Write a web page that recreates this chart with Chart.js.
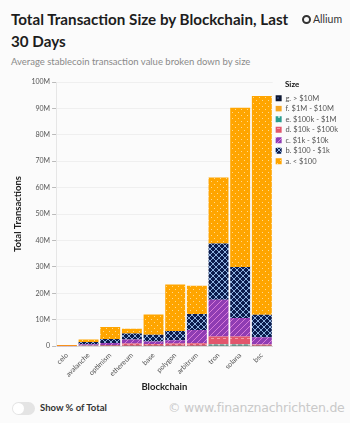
<!DOCTYPE html>
<html>
<head>
<meta charset="utf-8">
<script src="https://cdn.jsdelivr.net/npm/chart.js@4.4.1/dist/chart.umd.min.js"></script>
<style>
  html, body { margin: 0; padding: 0; background: #fbfbfb; }
  body { width: 350px; height: 423px; position: relative; overflow: hidden; font-family: "Lato", sans-serif; }
  #titulo { position: absolute; left: 11px; top: 8px; width: 292px; font-size: 15.2px; font-weight: 700; line-height: 22px; color: #1d1d1d; }
  #sub { position: absolute; left: 11px; top: 56px; font-size: 9.5px; color: #8a8a8a; }
  #logo { position: absolute; left: 302px; top: 13px; font-size: 10.5px; color: #333; display: flex; align-items: center; gap: 2px; }
  #logo .ic { width: 9px; height: 9px; border: 2px solid #333; border-radius: 50%; box-sizing: border-box; }
  #grafico { position: absolute; left: 0; top: 72px; }
  #size { position: absolute; left: 285px; top: 79px; font-size: 8px; font-weight: 700; color: #111; }
  #toggle { position: absolute; left: 12px; top: 402px; width: 23px; height: 13px; border-radius: 7px; background: #e4e4e4; }
  #toggle span { position: absolute; left: 1px; top: 1px; width: 11px; height: 11px; border-radius: 50%; background: #fff; }
  #toggleTxt { position: absolute; left: 40px; top: 402px; font-size: 9.5px; font-weight: 700; color: #333; }
  #marca { position: absolute; left: 168px; top: 400px; font-size: 12.5px; color: #c9c9c9; font-family: "DejaVu Sans", sans-serif; letter-spacing: -0.2px; }
</style>
</head>
<body>
<div id="titulo">Total Transaction Size by Blockchain, Last 30 Days</div>
<div id="logo"><div class="ic"></div>Allium</div>
<div id="sub">Average stablecoin transaction value broken down by size</div>
<canvas id="grafico" width="350" height="328"></canvas>
<div id="size">Size</div>
<div id="toggle"><span></span></div>
<div id="toggleTxt">Show % of Total</div>
<div id="marca">© www.finanznachrichten.de</div>
<script>
// Datos (millones)
const blockchains = ['celo', 'avalanche', 'optimism', 'ethereum', 'base', 'polygon', 'arbitrum', 'tron', 'solana', 'bsc'];
const tamanoA = [0.4, 1.0, 4.6, 1.8, 7.7, 17.6, 10.7, 25.0, 60.3, 82.8];   // a. < $100
const tamanoB = [0.05, 0.8, 1.5, 2.3, 2.5, 3.5, 6.1, 21.3, 19.3, 8.5];    // b. $100 - $1k
const tamanoC = [0.02, 0.5, 0.8, 1.5, 1.0, 1.2, 5.0, 13.9, 7.0, 2.8];     // c. $1k - $10k
const tamanoD = [0.01, 0.2, 0.3, 0.9, 0.7, 0.9, 1.0, 3.0, 3.0, 0.5];      // d. $10k - $100k
const tamanoE = [0, 0.05, 0.1, 0.1, 0.1, 0.1, 0.1, 0.5, 0.5, 0.1];        // e. $100k - $1M
const tamanoF = [0, 0, 0, 0, 0, 0, 0, 0.1, 0.1, 0];                       // f. $1M - $10M
const tamanoG = [0, 0, 0, 0, 0, 0, 0, 0.05, 0.05, 0];                     // g. > $10M
const ticksY = ['0', '10M', '20M', '30M', '40M', '50M', '60M', '70M', '80M', '90M', '100M'];

// Patrones de relleno
function patron(fondo, dibujar) {
    const c = document.createElement('canvas');
    c.width = 6; c.height = 6;
    const g = c.getContext('2d');
    g.fillStyle = fondo;
    g.fillRect(0, 0, 6, 6);
    dibujar(g);
    return g.createPattern(c, 'repeat');
}

const patA = patron('#ffa500', g => {
    g.fillStyle = '#ffd98c';
    g.fillRect(1, 1, 1, 1);
    g.fillRect(4, 4, 1, 1);
});
const patB = patron('#0b1c4d', g => {
    g.strokeStyle = '#9cc2ee';
    g.lineWidth = 0.9;
    g.beginPath();
    g.moveTo(0, 3); g.lineTo(3, 0); g.lineTo(6, 3); g.lineTo(3, 6); g.closePath();
    g.stroke();
});
const patC = patron('#8f3cb3', g => {
    g.strokeStyle = '#d77ad8';
    g.lineWidth = 1;
    g.beginPath();
    g.moveTo(0, 6); g.lineTo(6, 0);
    g.moveTo(-1, 1); g.lineTo(1, -1);
    g.moveTo(5, 7); g.lineTo(7, 5);
    g.stroke();
});
const patD = patron('#e2566c', g => {
    g.fillStyle = '#f29aa6';
    g.fillRect(1, 2, 3, 1);
});
const patE = patron('#2a9d8f', g => {
    g.fillStyle = '#9ad8cf';
    g.fillRect(2, 2, 2, 2);
});
const patF = patron('#f5a623', g => {
    g.fillStyle = '#fbd28c';
    g.fillRect(0, 3, 6, 1);
});
const patG = patron('#0d1733', g => {
    g.fillStyle = '#2a3b66';
    g.fillRect(1, 1, 2, 2);
});

const series = [
    { label: 'g. > $10M', data: tamanoG, backgroundColor: patG },
    { label: 'f. $1M - $10M', data: tamanoF, backgroundColor: patF },
    { label: 'e. $100k - $1M', data: tamanoE, backgroundColor: patE },
    { label: 'd. $10k - $100k', data: tamanoD, backgroundColor: patD },
    { label: 'c. $1k - $10k', data: tamanoC, backgroundColor: patC },
    { label: 'b. $100 - $1k', data: tamanoB, backgroundColor: patB },
    { label: 'a. < $100', data: tamanoA, backgroundColor: patA }
];

const ctx = document.getElementById('grafico').getContext('2d');

window.chartTamano = new Chart(ctx, {
    type: 'bar',
    data: {
        labels: blockchains,
        datasets: series.map(s => ({
            label: s.label,
            data: s.data,
            backgroundColor: s.backgroundColor,
            borderWidth: 0,
            categoryPercentage: 0.92,
            barPercentage: 1.0
        }))
    },
    options: {
        responsive: false,
        animation: false,
        layout: { padding: { top: 10, right: 2, left: 8, bottom: 3 } },
        scales: {
            x: {
                stacked: true,
                grid: { display: false, drawTicks: true, tickLength: 4 },
                border: { color: '#d8d8d8' },
                ticks: {
                    color: '#555',
                    font: { size: 7, family: 'Lato' },
                    maxRotation: 45,
                    minRotation: 45,
                    padding: 1
                },
                title: {
                    display: true,
                    text: 'Blockchain',
                    color: '#222',
                    font: { size: 9.5, weight: '700', family: 'Lato' },
                    padding: { top: 2 }
                }
            },
            y: {
                stacked: true,
                min: 0,
                max: 100,
                grid: { color: '#efefef', tickLength: 4, tickColor: '#bbb' },
                border: { color: '#e6e6e6' },
                ticks: {
                    stepSize: 10,
                    color: '#555',
                    font: { size: 7, family: 'Lato' },
                    padding: 2,
                    callback: (v, i) => ticksY[i]
                },
                title: {
                    display: true,
                    text: 'Total Transactions',
                    color: '#222',
                    font: { size: 9.5, weight: '700', family: 'Lato' },
                    padding: { bottom: 6 }
                }
            }
        },
        plugins: {
            legend: {
                position: 'right',
                align: 'start',
                title: {
                    display: true,
                    text: '',
                    font: { size: 8, family: 'Lato' },
                    padding: { top: 0, bottom: 0 }
                },
                labels: {
                    color: '#555',
                    font: { size: 7.5, family: 'Lato' },
                    boxWidth: 6,
                    boxHeight: 6,
                    padding: 3
                }
            },
            tooltip: { enabled: false }
        }
    }
});
</script>
</body>
</html>
